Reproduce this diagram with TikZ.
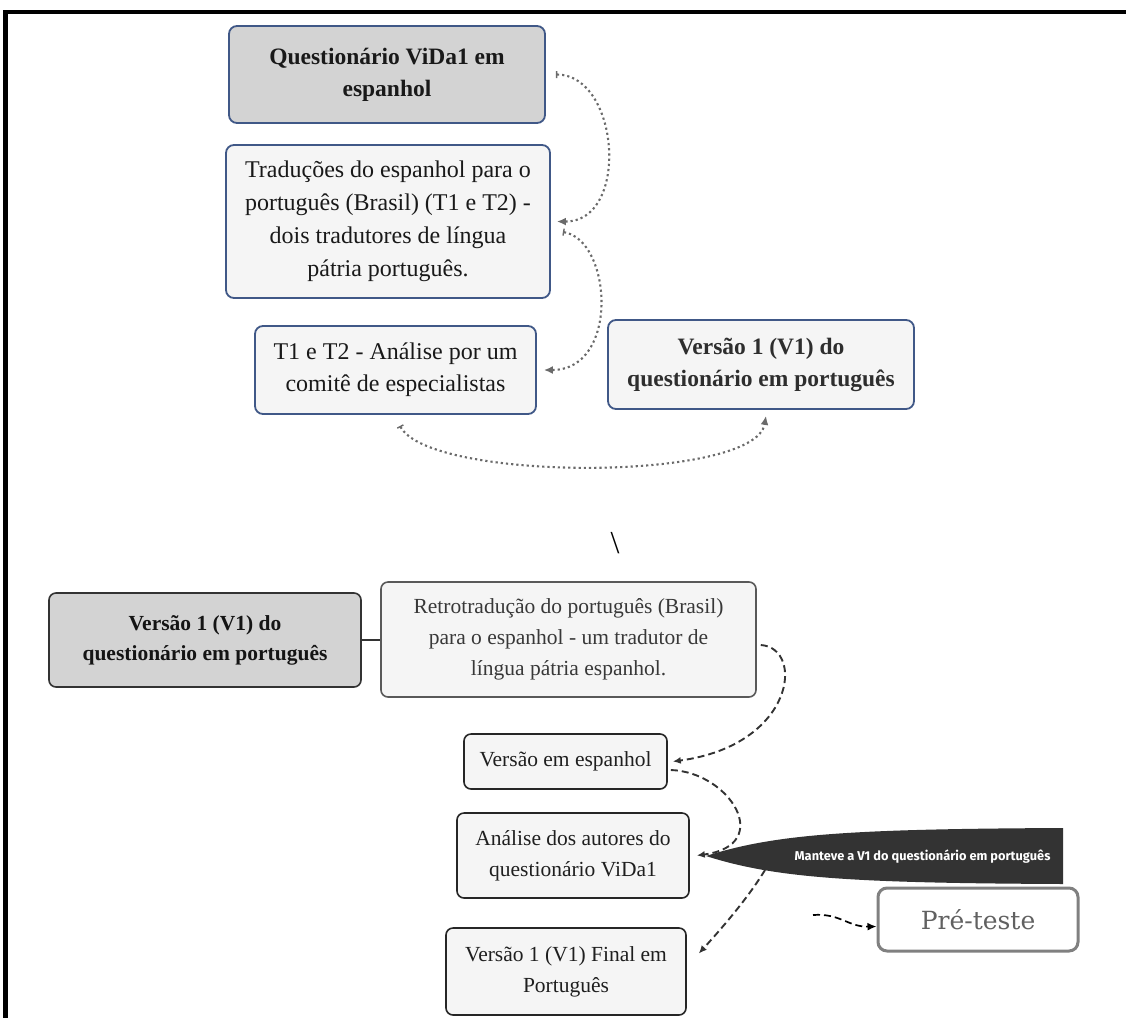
\documentclass[tikz,border=0pt]{standalone}
\usepackage{fontspec}
\setmainfont{Liberation Serif}
\newfontfamily\calloutfont{Fira Sans}
\newfontfamily\prefont{DejaVu Serif}
\usetikzlibrary{arrows.meta}
\definecolor{bluebd}{RGB}{64,88,135}
\definecolor{gfill}{HTML}{D3D3D3}
\definecolor{lfill}{HTML}{F5F5F5}
\definecolor{dotc}{HTML}{6A6A6A}
\definecolor{dashc}{HTML}{333333}
\definecolor{callc}{HTML}{333333}
\begin{document}
\begin{tikzpicture}[x=1pt,y=-1pt,
  topbox/.style={draw=bluebd, line width=1.8pt, rounded corners=8pt, fill=lfill, align=center, inner sep=0pt, text=black!90},
  lowbox/.style={draw=black!85, line width=1.6pt, rounded corners=7pt, fill=lfill, align=center, inner sep=0pt, text=black!88},
  topfont/.style={font=\fontsize{24}{33}\selectfont},
  topbold/.style={font=\fontsize{23.5}{32}\selectfont\bfseries},
  lowfont/.style={font=\fontsize{21.5}{31}\selectfont},
  lowbold/.style={font=\fontsize{21.5}{30}\selectfont\bfseries},
  dotline/.style={draw=dotc, line width=2.1pt, dash pattern=on 2.2pt off 3pt, {Bar[width=7pt,line width=1.4pt]}-{Latex[length=9pt,width=8pt]}},
  dashline/.style={draw=dashc, line width=1.9pt, dash pattern=on 7pt off 4pt, -{Latex[length=8pt,width=7pt]}}
]
\useasboundingbox (0,0) rectangle (1126,1018);
% frame
\fill[black] (3,10) rectangle (1126,14);
\fill[black] (3,10) rectangle (8,1018);

% top section
\node[topbox, fill=gfill, topbold, minimum width=316pt, minimum height=97pt] (q1) at (387,74.5) {Questionário ViDa1 em\\espanhol};
\node[topbox, topfont, minimum width=324pt, minimum height=153pt] (trad) at (388,221.5) {Traduções do espanhol para o\\português (Brasil) (T1 e T2) -\\dois tradutores de língua\\pátria português.};
\node[topbox, topfont, minimum width=281pt, minimum height=88pt, font=\fontsize{24}{32}\selectfont] (t12) at (395.5,370) {T1 e T2 - Análise por um\\comitê de especialistas};
\node[topbox, topbold, text=black!82, minimum width=306pt, minimum height=89pt] (v1top) at (761,364.5) {Versão 1 (V1) do\\questionário em português};

\draw[dotline] ([xshift=10pt]q1.east) .. controls (620,75) and (630,222) .. ([xshift=6pt]trad.east);
\draw[dotline] ([xshift=12pt,yshift=-10.5pt]trad.east) .. controls (612,240) and (620,370) .. ([xshift=7pt]t12.east);
\draw[dotline] ([xshift=4.5pt,yshift=-11pt]t12.south) .. controls (430,482) and (755,482) .. ([xshift=5pt,yshift=-6pt]v1top.south);

\node[font=\fontsize{32}{32}\selectfont] (bs) at (615,543) {\textbackslash};

% bottom section
\node[lowbox, fill=gfill, draw=black!80, lowbold, text=black!92, minimum width=312pt, minimum height=94pt] (v1b) at (205,640) {Versão 1 (V1) do\\questionário em português};
\node[lowbox, draw=black!65, lowfont, text=black!78, minimum width=375pt, minimum height=115pt] (retro) at (568.5,639.5) {Retrotradução do português (Brasil)\\para o espanhol - um tradutor de\\língua pátria espanhol.};
\node[lowbox, lowfont, minimum width=203pt, minimum height=55pt] (vesp) at (565.5,761.5) {Versão em espanhol};
\node[lowbox, lowfont, minimum width=232pt, minimum height=85pt] (anal) at (573,855.5) {Análise dos autores do\\questionário ViDa1};
\node[lowbox, lowfont, minimum width=240pt, minimum height=87pt] (vfinal) at (566,971.5) {Versão 1 (V1) Final em\\Português};
\node[draw=black!50, line width=3pt, rounded corners=9pt, fill=white, text=black!62, font=\prefont\fontsize{25}{25}\selectfont, minimum width=200pt, minimum height=63pt, inner sep=0pt] (pre) at (978,919.5) {Pré-teste};

\draw[draw=black!80, line width=1.5pt] (v1b.east) -- (retro.west |- v1b.east);

% callout
\fill[callc] (706,856) .. controls (775,834) and (850,829) .. (1063,828) -- (1063,884) .. controls (850,883) and (775,878) .. (706,856) -- cycle;
\node[text=white, font=\calloutfont\bfseries\fontsize{12.8}{13}\selectfont, anchor=east] (calltext) at (1054,857) {Manteve a V1 do questionário em português};
\coordinate (calltail) at (765,870);
\coordinate (pretail) at (813,915);

\draw[dashline] ([xshift=4pt,yshift=-5.5pt]retro.east) .. controls (805,648) and (795,745) .. ([xshift=5pt]vesp.east);
\draw[dashline] ([xshift=3pt,yshift=-8.5pt]vesp.east) .. controls (730,772) and (775,845) .. ([xshift=7pt]anal.east);
\draw[dashline] (calltail) .. controls (748,898) and (722,928) .. ([xshift=12pt,yshift=18pt]vfinal.east);
\draw[draw=black, line width=1.7pt, dash pattern=on 7pt off 4pt, -{Latex[length=9pt,width=8pt]}] (pretail) .. controls (840,913) and (848,927) .. ([yshift=-7pt]pre.west);
\end{tikzpicture}
\end{document}
